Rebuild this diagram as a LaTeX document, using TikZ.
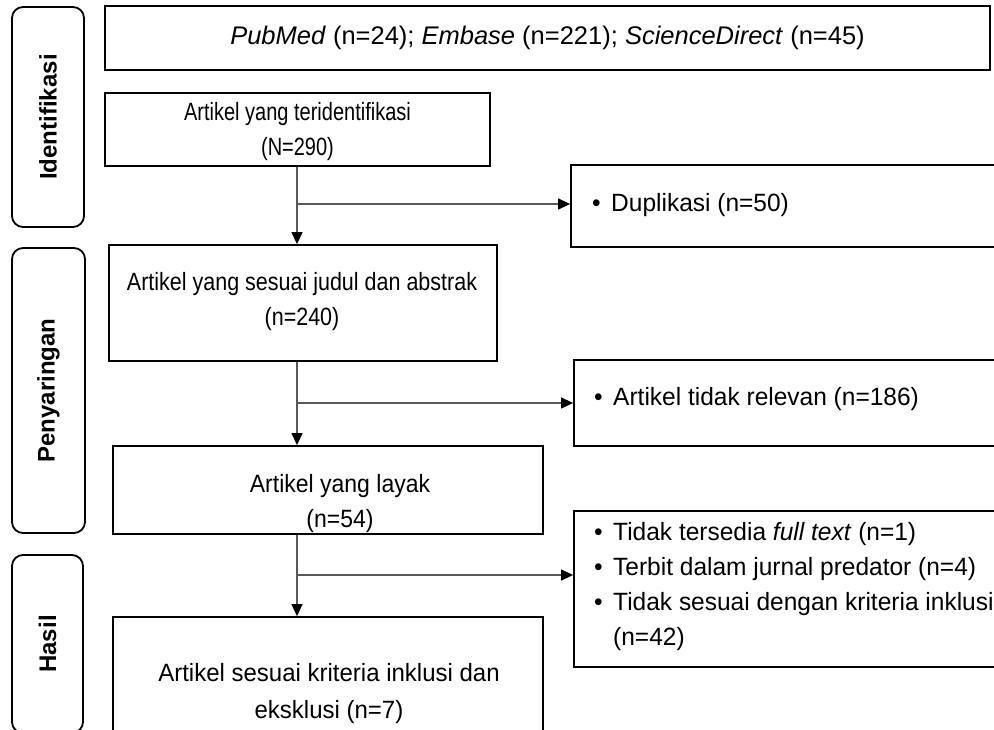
\documentclass[tikz,border=0pt]{standalone}
\usepackage{fontspec}
\setmainfont{Liberation Sans}
\newfontfamily\fsA[FakeStretch=0.80]{Liberation Sans}
\newfontfamily\fsB[FakeStretch=0.86]{Liberation Sans}
\newfontfamily\fsC[FakeStretch=0.92]{Liberation Sans}
\newfontfamily\fsD[FakeStretch=0.96]{Liberation Sans}
\newfontfamily\fsE[FakeStretch=0.98]{Liberation Sans}
\usetikzlibrary{arrows.meta}
\newcommand{\bulitem}{\makebox[19pt][l]{\textbullet}}
\begin{document}
\begin{tikzpicture}[x=1pt,y=-1pt,
  box/.style={draw=black, line width=1.8pt, inner sep=0pt},
  stagebox/.style={draw=black, line width=1.8pt, rounded corners=11pt, inner sep=0pt},
  stagetext/.style={font=\fontsize{24}{28}\selectfont\bfseries, rotate=90, inner sep=0pt},
  txt/.style={align=center, inner sep=0pt},
  ltxt/.style={font=\fontsize{25}{35}\selectfont\fsE, align=left, inner sep=0pt, anchor=west},
  conn/.style={draw=black!65, line width=1.2pt},
  arr/.style={conn, -{Triangle[length=12pt,width=11pt,color=black]}}
]
\clip (0,0) rectangle (994,730);
% stage boxes
\node[stagebox, minimum width=72pt, minimum height=220pt] (s1) at (48,117) {};
\node[stagetext] (s1t) at (s1.center) {Identifikasi};
\node[stagebox, minimum width=73pt, minimum height=285pt] (s2) at (48.5,390.5) {};
\node[stagetext] (s2t) at (s2.center) {Penyaringan};
\node[stagebox, minimum width=71pt, minimum height=178pt] (s3) at (47.5,644) {};
\node[stagetext] (s3t) at (s3.center) {Hasil};
% main boxes
\node[box, minimum width=885pt, minimum height=64pt] (src) at (547.5,38) {};
\node[txt, font=\fontsize{25.5}{35}\selectfont] (srct) at (547.5,38) {\textit{PubMed} (n=24); \textit{Embase} (n=221); \textit{ScienceDirect} (n=45)};
\node[box, minimum width=385pt, minimum height=73pt] (b2) at (297.5,129.5) {};
\node[txt, font=\fontsize{25}{35}\selectfont\fsA] (b2t) at (297.5,132) {Artikel yang teridentifikasi\\(N=290)};
\node[box, minimum width=388pt, minimum height=116pt] (b3) at (303,303) {};
\node[txt, font=\fontsize{25}{35}\selectfont\fsB] (b3t) at (302,302) {Artikel yang sesuai judul dan abstrak\\(n=240)};
\node[box, minimum width=430pt, minimum height=88pt] (b4) at (328,490) {};
\node[txt, font=\fontsize{25}{35}\selectfont\fsC] (b4t) at (340,504) {Artikel yang layak\\(n=54)};
\node[box, minimum width=430pt, minimum height=143pt] (b5) at (328,688.5) {};
\node[txt, font=\fontsize{25}{37}\selectfont\fsD] (b5t) at (329,694) {Artikel sesuai kriteria inklusi dan\\eksklusi (n=7)};
% right boxes
\node[box, minimum width=450pt, minimum height=82pt] (r1) at (796,206) {};
\node[ltxt] (r1t) at (592,205) {\bulitem Duplikasi (n=50)};
\node[box, minimum width=450pt, minimum height=86pt] (r2) at (799,403) {};
\node[ltxt] (r2t) at (594,399) {\bulitem Artikel tidak relevan (n=186)};
\node[box, minimum width=450pt, minimum height=156pt] (r3) at (799,589) {};
\node[ltxt] (r3t) at (594,587) {\bulitem Tidak tersedia \textit{full text} (n=1)\\\bulitem Terbit dalam jurnal predator (n=4)\\\bulitem Tidak sesuai dengan kriteria inklusi\\\hspace*{19pt}(n=42)};
% connectors
\coordinate (vx) at (297,0);
\coordinate (j1) at (297,204);
\coordinate (j2) at (297,403);
\coordinate (j3) at (297,575);
\draw[arr] (b2.south -| vx) -- (b3.north -| vx);
\draw[arr] (j1) -- (j1 -| r1.west);
\draw[arr] (b3.south -| vx) -- (b4.north -| vx);
\draw[arr] (j2) -- (j2 -| r2.west);
\draw[arr] (b4.south -| vx) -- (b5.north -| vx);
\draw[arr] (j3) -- (j3 -| r3.west);
\end{tikzpicture}
\end{document}
